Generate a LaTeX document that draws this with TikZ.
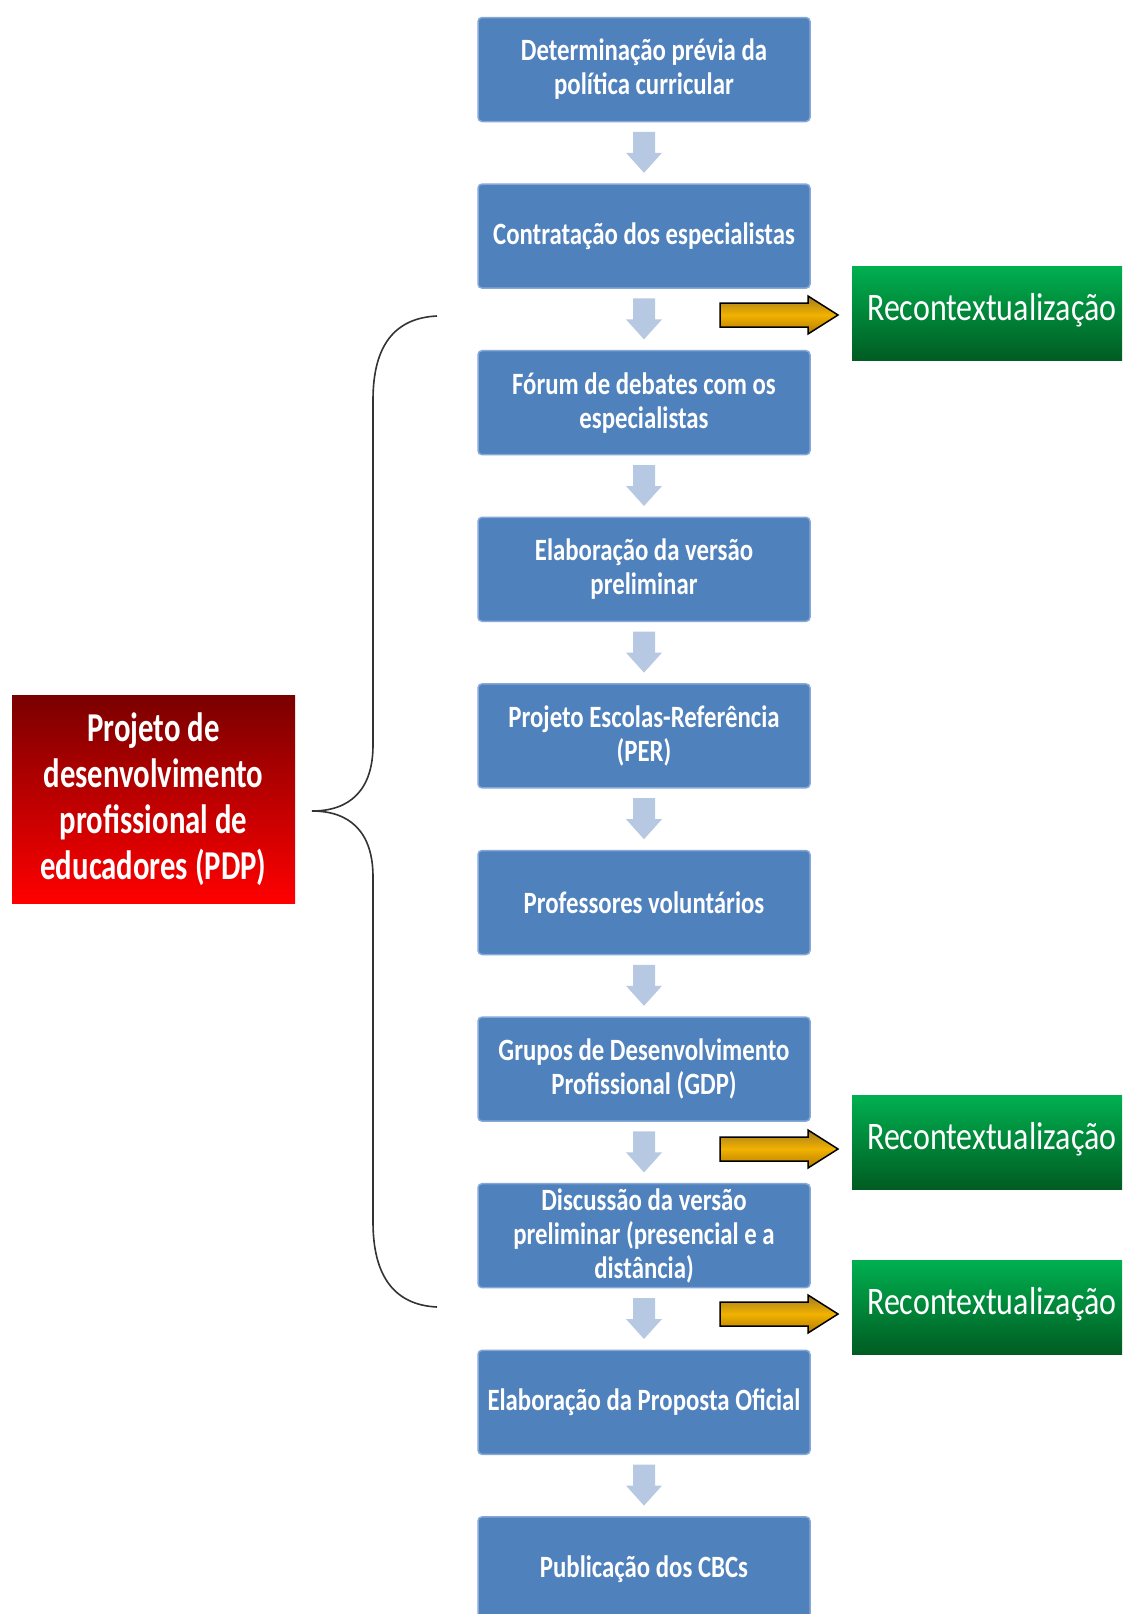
\documentclass[tikz,border=0pt]{standalone}
\usepackage{fontspec}
\usetikzlibrary{calc}
\newfontfamily\stepfont[FakeStretch=0.8]{Carlito}
\newfontfamily\pdpfont[FakeStretch=0.75]{Carlito}
\newfontfamily\rcfont[FakeStretch=0.82]{Carlito}

\definecolor{stepblue}{HTML}{4F81BD}
\definecolor{stepedge}{HTML}{86A8D8}
\definecolor{downblue}{HTML}{B7C8E3}
\definecolor{pdptop}{HTML}{7A0000}
\definecolor{pdpbot}{HTML}{FF0000}
\definecolor{rctop}{HTML}{00B050}
\definecolor{rcbot}{HTML}{005C22}
\definecolor{goldtop}{HTML}{A27B1E}
\definecolor{goldmid}{HTML}{F2B200}
\definecolor{goldbot}{HTML}{B27A00}
\definecolor{bracecol}{HTML}{333333}

\tikzset{
  stepbox/.style={draw=stepedge, line width=1.5pt, fill=stepblue, rounded corners=4pt,
    minimum width=332pt, minimum height=104pt, inner sep=0pt, align=center, text=white,
    font=\stepfont\bfseries\fontsize{31}{34}\selectfont},
  pdpbox/.style={top color=pdptop, bottom color=pdpbot, minimum width=283pt,
    minimum height=208pt, inner sep=0pt, align=center, text=white,
    font=\pdpfont\bfseries\fontsize{41}{46}\selectfont},
  rcbox/.style={anchor=north west, top color=rctop, bottom color=rcbot, text width=270pt,
    align=left, inner xsep=15pt, inner ysep=13pt, text height=41pt, text depth=27pt,
    text=white, font=\rcfont\fontsize{39}{44}\selectfont},
  downarr/.pic={\fill[downblue] (-11,-21) -- (11,-21) -- (11,0) -- (18,0) -- (0,20)
    -- (-18,0) -- (-11,0) -- cycle;},
  goldarr/.pic={\shade[draw=black, line width=1.5pt, top color=goldtop, bottom color=goldbot,
    middle color=goldmid] (0,-12) -- (88,-12) -- (88,-19) -- (118,0) -- (88,19)
    -- (88,12) -- (0,12) -- cycle;}
}

\begin{document}
\begin{tikzpicture}[x=1pt,y=-1pt]
\useasboundingbox (0,0) rectangle (1122,1614);
\clip (0,0) rectangle (1122,1614);

% Steps
\node[stepbox] (s1) at (644,69.5) {Determinação prévia da\\política curricular};
\node[stepbox] (s2) at (644,236.1) {Contratação dos especialistas};
\node[stepbox] (s3) at (644,402.7) {Fórum de debates com os\\especialistas};
\node[stepbox] (s4) at (644,569.3) {Elaboração da versão\\preliminar};
\node[stepbox] (s5) at (644,735.9) {Projeto Escolas-Referência\\(PER)};
\node[stepbox] (s6) at (644,902.5) {Professores voluntários};
\node[stepbox] (s7) at (644,1069.1) {Grupos de Desenvolvimento\\Profissional (GDP)};
\node[stepbox] (s8) at (644,1235.7) {Discussão da versão\\preliminar (presencial e a\\distância)};
\node[stepbox] (s9) at (644,1402.3) {Elaboração da Proposta Oficial};
\node[stepbox] (s10) at (644,1568.9) {Publicação dos CBCs};

% Arrows between steps
\pic at ($(s1.south)!0.5!(s2.north)$) {downarr};
\pic at ($(s2.south)!0.5!(s3.north)$) {downarr};
\pic at ($(s3.south)!0.5!(s4.north)$) {downarr};
\pic at ($(s4.south)!0.5!(s5.north)$) {downarr};
\pic at ($(s5.south)!0.5!(s6.north)$) {downarr};
\pic at ($(s6.south)!0.5!(s7.north)$) {downarr};
\pic at ($(s7.south)!0.5!(s8.north)$) {downarr};
\pic at ($(s8.south)!0.5!(s9.north)$) {downarr};
\pic at ($(s9.south)!0.5!(s10.north)$) {downarr};

% Recontextualization
\node[rcbox] (rc1) at (852,266) {Recontextualização};
\node[rcbox] (rc2) at (852,1095) {Recontextualização};
\node[rcbox] (rc3) at (852,1260) {Recontextualização};
\coordinate (g1) at (720,315);
\coordinate (g2) at (720,1149);
\coordinate (g3) at (720,1314);
\pic at (g1) {goldarr};
\pic at (g2) {goldarr};
\pic at (g3) {goldarr};

% PDP and brace
\node[pdpbox] (pdp) at (153.5,799) {Projeto de\\desenvolvimento\\profissional de\\educadores (PDP)};
\draw[bracecol, line width=1.6pt] (437,316) .. controls (395,318) and (373,345) .. (373,400)
  -- (373,745) .. controls (373,790) and (350,811) .. (312,811)
  .. controls (350,811) and (373,832) .. (373,877) -- (373,1222)
  .. controls (373,1277) and (395,1305) .. (437,1307);
\end{tikzpicture}
\end{document}
